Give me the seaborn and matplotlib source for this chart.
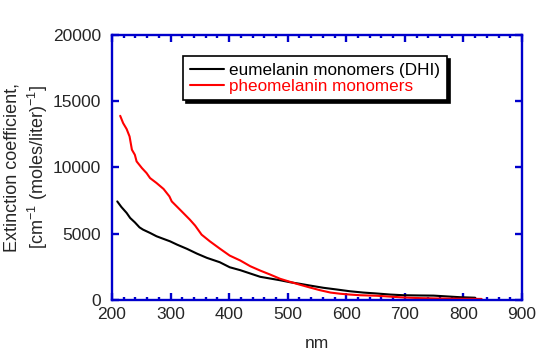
import matplotlib
matplotlib.use("Agg")
import matplotlib.pyplot as plt
from matplotlib.ticker import MultipleLocator
import pandas as pd
import seaborn as sns

# eumelanin monomers (DHI)
EU_NM = [209, 216, 225, 231, 239, 247, 253, 265, 276, 288, 299, 311, 328, 345,
         362, 384, 401, 419, 436, 453, 470, 487, 504, 521, 538, 561, 584, 606,
         629, 652, 675, 697, 726, 749, 794, 820]
EU_EXT = [7440, 7020, 6570, 6190, 5860, 5480, 5310, 5060, 4810, 4610, 4430, 4180,
          3860, 3500, 3180, 2850, 2470, 2250, 2000, 1750, 1620, 1490, 1340, 1220,
          1090, 920, 790, 660, 560, 490, 410, 360, 340, 330, 210, 170]

# pheomelanin monomers
PHEO_NM = [214, 219, 225, 230, 234, 239, 242, 251, 259, 265, 276, 288, 298, 302,
           316, 333, 342, 353, 367, 384, 401, 419, 436, 453, 470, 487, 504, 521,
           538, 555, 573, 590, 606, 623, 652, 680, 697, 726, 760, 800, 831]
PHEO_EXT = [13900, 13350, 12900, 12340, 11340, 10960, 10460, 9960, 9580, 9200,
            8830, 8380, 7820, 7440, 6820, 6060, 5610, 4930, 4430, 3880, 3350,
            2980, 2550, 2220, 1920, 1600, 1370, 1150, 940, 740, 560, 470, 410,
            360, 320, 240, 190, 140, 110, 90, 80]

EU_LABEL = "eumelanin monomers (DHI)"
PHEO_LABEL = "pheomelanin monomers"
AXIS_BLUE = "#0000CC"

sns.set_style("ticks")
plt.rcParams["font.family"] = ["Liberation Sans", "DejaVu Sans"]
plt.rcParams["mathtext.default"] = "regular"

df = pd.concat([
    pd.DataFrame({"nm": EU_NM, "ext": EU_EXT, "series": EU_LABEL}),
    pd.DataFrame({"nm": PHEO_NM, "ext": PHEO_EXT, "series": PHEO_LABEL}),
])

fig, ax = plt.subplots(figsize=(5.4, 3.6), dpi=100)
fig.subplots_adjust(left=0.2074, right=0.9667, bottom=0.1667, top=0.9028)

sns.lineplot(data=df, x="nm", y="ext", hue="series",
             palette={EU_LABEL: "black", PHEO_LABEL: "#FF0000"},
             linewidth=1.5, ax=ax, sort=False, estimator=None)

ax.set_xlim(200, 900)
ax.set_ylim(0, 20000)
ax.xaxis.set_major_locator(MultipleLocator(100))
ax.xaxis.set_minor_locator(MultipleLocator(20))
ax.yaxis.set_major_locator(MultipleLocator(5000))

for side in ["left", "right", "top", "bottom"]:
    ax.spines[side].set_visible(True)
    ax.spines[side].set_color(AXIS_BLUE)
    ax.spines[side].set_linewidth(1.7)

ax.tick_params(which="both", direction="in", top=True, right=True,
               color=AXIS_BLUE, width=1.7, labelsize=12.5)
ax.tick_params(which="major", length=5)
ax.tick_params(which="minor", length=2.5)
ax.tick_params(axis="y", pad=8)
ax.tick_params(axis="x", pad=5)

ax.set_xlabel("nm", fontsize=12.5, labelpad=10)
ax.set_ylabel("Extinction coefficient,\n[cm$^{-1}$ (moles/liter)$^{-1}$]",
              fontsize=13, linespacing=1.3)
ax.yaxis.label.set_verticalalignment("center")
ax.yaxis.label.set_horizontalalignment("center")
ax.yaxis.set_label_coords(-0.208, 0.5)

leg = ax.legend(loc="upper left", bbox_to_anchor=(0.173, 0.921),
                borderaxespad=0, fontsize=12.3, labelcolor="linecolor",
                fancybox=False, edgecolor="black", framealpha=1,
                shadow={"color": "black", "alpha": 1},
                handlelength=2.0, handletextpad=0.3,
                borderpad=0.4, labelspacing=0.05)
leg.get_frame().set_linewidth(1.2)

fig.savefig("out.png", dpi=100)
